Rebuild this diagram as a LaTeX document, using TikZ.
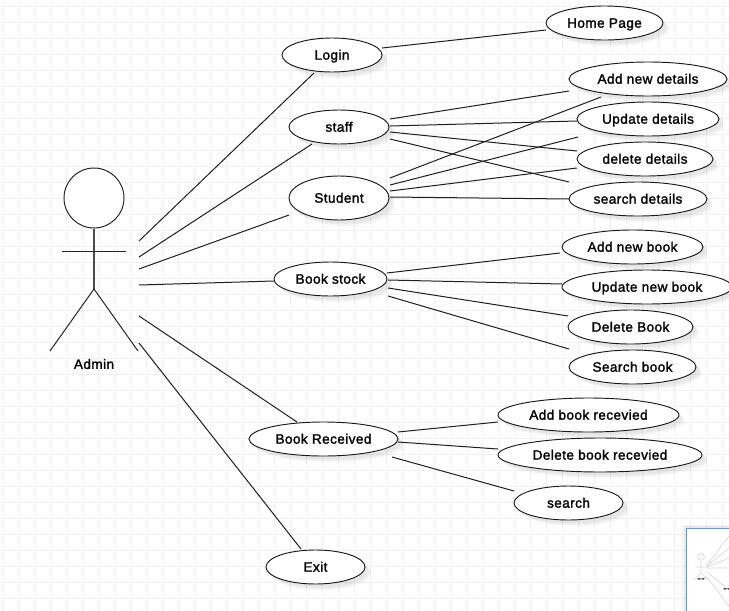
\documentclass[tikz,border=0pt]{standalone}
\usepackage{fontspec}
\setmainfont[FakeBold=1.6,LetterSpace=3]{Liberation Sans}
\usetikzlibrary{shapes.geometric,shadows,calc}
\definecolor{gridc}{HTML}{F1F1F1}
\definecolor{frameblue}{HTML}{4F9DFF}
\definecolor{faint}{HTML}{D8D8D8}
\tikzset{
  x=0.75pt,y=-0.75pt,
  gridline/.style={gridc,line width=1.1pt},
  conn/.style={black!88,line width=0.75pt},
  softshadow/.style={
    drop shadow={shadow xshift=2.6pt,shadow yshift=-2.6pt,fill=black,opacity=.03},
    drop shadow={shadow xshift=3.6pt,shadow yshift=-3.6pt,fill=black,opacity=.03},
    drop shadow={shadow xshift=4.6pt,shadow yshift=-4.6pt,fill=black,opacity=.03}},
  usecase/.style={ellipse,draw=black!90,line width=0.7pt,fill=white,softshadow,inner sep=0pt,
    minimum width=#1*0.75pt,minimum height=25.5pt,text height=9pt,text depth=2pt,
    font=\fontsize{10.2pt}{12pt}\selectfont},
  tall/.style={minimum height=33pt},
  actorline/.style={black!85,line width=0.75pt},
  thumbline/.style={faint,line width=0.5pt},
  tinytext/.style={font=\fontsize{8pt}{9pt}\selectfont,inner sep=0pt}
}
\begin{document}
\begin{tikzpicture}
\useasboundingbox (0,0) rectangle (729,611);
\fill[white] (0,0) rectangle (729,611);
\foreach \gx in {2.7,18.7,...,722.7} \draw[gridline] (\gx,0) -- (\gx,611);
\foreach \gy in {6.3,22.3,...,598.3} \draw[gridline] (0,\gy) -- (729,\gy);

% actor
\node[circle,draw=black!85,line width=0.75pt,fill=white,inner sep=0pt,minimum size=45pt] (actor) at (94,198) {};
\coordinate (hip) at (94,289);
\coordinate (armL) at (62,251);
\coordinate (armR) at (126,251);
\coordinate (footL) at (50,351);
\coordinate (footR) at (138,351);
\draw[actorline,line width=1pt,black!70] (actor.south) -- (hip);
\draw[actorline] (armL) -- (armR);
\draw[actorline] (footL) -- (hip) -- (footR);
\node[font=\fontsize{10.2pt}{12pt}\selectfont,inner sep=0pt] (admin) at (94,364) {Admin};

% use cases
\node[usecase=100] (login) at (332,55) {Login};
\node[usecase=117] (home) at (604.5,23) {Home Page};
\node[usecase=100] (staff) at (339,127) {staff};
\node[usecase=100,tall] (student) at (339,198) {Student};
\node[usecase=158] (adddet) at (648,79) {Add new details};
\node[usecase=142] (upddet) at (648,119) {Update details};
\node[usecase=136] (deldet) at (645,159) {delete details};
\node[usecase=138] (seadet) at (638,199) {search details};
\node[usecase=113] (stock) at (330.5,279) {Book stock};
\node[usecase=141] (addbook) at (632.5,247) {Add new book};
\node[usecase=170] (updbook) at (647,287) {Update new book};
\node[usecase=125] (delbook) at (630.5,327) {Delete Book};
\node[usecase=127] (seabook) at (632.5,367) {Search book};
\node[usecase=149] (received) at (323.5,439) {Book Received};
\node[usecase=181] (addrec) at (588.5,415) {Add book recevied};
\node[usecase=204] (delrec) at (600,455) {Delete book recevied};
\node[usecase=109] (search) at (568.5,503) {search};
\node[usecase=99] (exit) at (315.5,567) {Exit};

% connectors from the actor
\draw[conn] ($(actor)+(45,43)$) -- ($(login)+(-18,18)$);
\draw[conn] ($(actor)+(45,59)$) -- ($(staff)+(-27,17)$);
\draw[conn] ($(actor)+(45,71)$) -- ($(student)+(-50,17)$);
\draw[conn] ($(actor)+(45,87)$) -- ($(stock)+(-56.5,2)$);
\draw[conn] ($(actor)+(45,118)$) -- ($(received)+(-26.5,-17)$);
\draw[conn] ($(actor)+(45,145)$) -- ($(exit)+(-14.5,-18)$);
% login
\draw[conn] ($(login)+(50,-7)$) -- ($(home)+(-58.5,7)$);
% staff
\draw[conn] ($(staff)+(51,-8)$) -- ($(adddet)+(-79,12)$);
\draw[conn] ($(staff)+(51,-1)$) -- ($(upddet)+(-71,2)$);
\draw[conn] ($(staff)+(51,5)$) -- ($(deldet)+(-68,-8)$);
\draw[conn] ($(staff)+(51,12)$) -- ($(seadet)+(-69,-17)$);
% student
\draw[conn] ($(student)+(51,-20)$) -- ($(adddet)+(-47,18)$);
\draw[conn] ($(student)+(51,-13)$) -- ($(upddet)+(-70,18)$);
\draw[conn] ($(student)+(51,-7)$) -- ($(deldet)+(-68,9)$);
\draw[conn] ($(student)+(51,-1)$) -- ($(seadet)+(-69,0)$);
% book stock
\draw[conn] ($(stock)+(56.5,-6)$) -- ($(addbook)+(-72.5,6)$);
\draw[conn] ($(stock)+(57.5,1)$) -- ($(updbook)+(-85,-3)$);
\draw[conn] ($(stock)+(57.5,9)$) -- ($(delbook)+(-62.5,-11)$);
\draw[conn] ($(stock)+(57.5,17)$) -- ($(seabook)+(-63.5,-18)$);
% book received
\draw[conn] ($(received)+(74.5,-7)$) -- ($(addrec)+(-90.5,7)$);
\draw[conn] ($(received)+(74.5,3)$) -- ($(delrec)+(-102,-6)$);
\draw[conn] ($(received)+(68.5,18)$) -- ($(search)+(-54.5,-12)$);

% overview thumbnail
\fill[black,opacity=.04] (682,525) rectangle (729,611);
\fill[black,opacity=.05] (684,526) rectangle (729,611);
\draw[frameblue,line width=0.9pt,fill=white] (686.5,528.5) rectangle (735,620);
\draw[thumbline] (701,557) circle (3.4);
\draw[thumbline] (701,562) -- (701,573) (695,567) -- (707,567) (701,573) -- (694,580) (701,573) -- (708,580);
\draw[thumbline] (707,565) -- (729,536) (707,566) -- (729,548) (707,567) -- (729,558) (707,568) -- (729,568);
\draw[thumbline] (707,572) -- (729,590) (706,576) -- (729,606);
\node[tinytext] (thumbA) at (701,580) {-{}-};
\node[tinytext] (thumbB) at (727,590) {-{}-};
\end{tikzpicture}
\end{document}
